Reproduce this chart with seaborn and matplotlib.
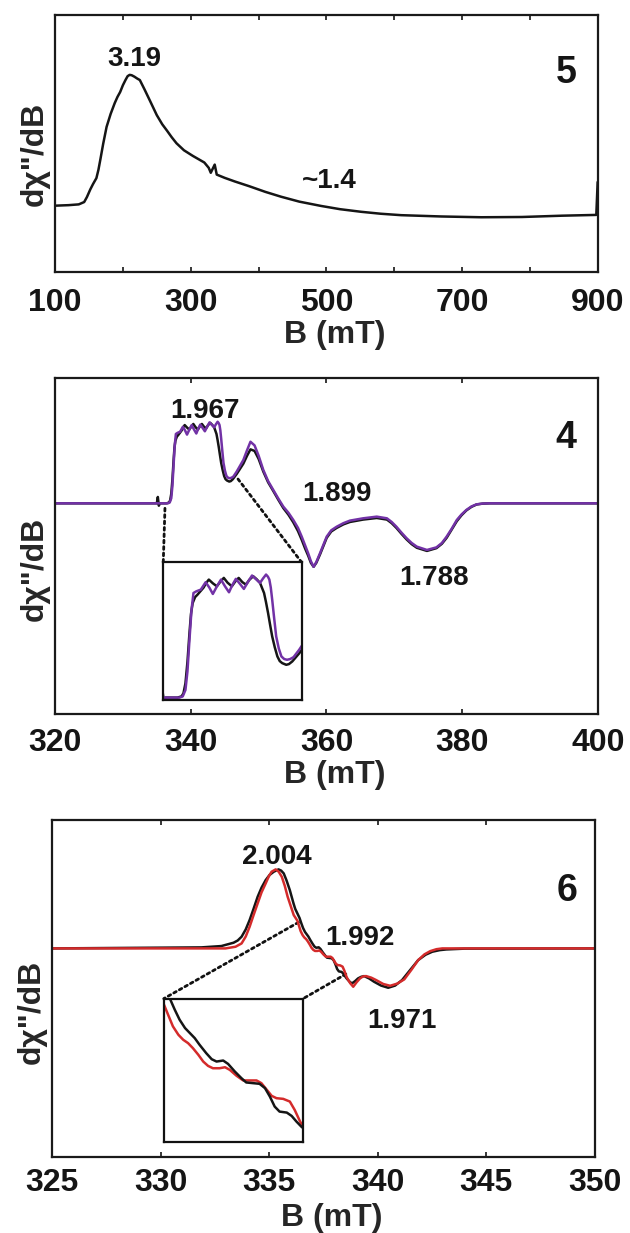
import seaborn as sns
import matplotlib.pyplot as plt
from matplotlib.patches import ConnectionPatch

# ---- panel "5": wide field scan (B in mT, signal in arb. units, baseline = 0)
b5 = [100, 120, 135, 143, 147, 152, 156, 161, 164, 167, 171, 176, 182, 188,
      192, 196, 200, 204, 207, 210, 213, 217, 221, 225, 232, 240, 250, 258,
      265, 272, 279, 290, 303, 320, 326.5, 329.5, 335.3, 338.3, 350, 365,
      386, 410, 433, 460, 492, 520, 551, 580, 610, 669, 728, 788, 847,
      897.5, 899.5]
i5 = [-0.006, -0.002, 0.004, 0.022, 0.06, 0.119, 0.16, 0.206, 0.27, 0.354,
      0.47, 0.60, 0.70, 0.783, 0.83, 0.868, 0.92, 0.962, 0.99, 1.0, 0.997,
      0.986, 0.972, 0.96, 0.887, 0.80, 0.69, 0.62, 0.571, 0.52, 0.474, 0.42,
      0.377, 0.326, 0.285, 0.247, 0.31, 0.233, 0.208, 0.18, 0.144, 0.10,
      0.063, 0.025, -0.008, -0.033, -0.053, -0.068, -0.079, -0.089, -0.095,
      -0.093, -0.083, -0.077, 0.176]

# ---- panel "4": black and purple traces
b4_black = [320, 335.0, 335.15, 335.3, 335.45, 336.45, 336.8, 336.96, 337.13,
            337.3, 337.47, 337.6, 337.74, 337.95, 338.15, 338.67, 338.9,
            339.11, 339.45, 339.79, 340.1, 340.38, 340.7, 341.06, 341.35,
            341.64, 341.95, 342.25, 342.55, 342.87, 343.15, 343.45, 343.79,
            343.95, 344.13, 344.3, 344.48, 344.7, 344.92, 345.12, 345.33,
            345.67, 345.9, 346.18, 346.77, 347.75, 348.3, 348.8, 349.4, 350.0,
            350.69, 351.4, 352.16, 352.9, 353.64, 354.4, 355.11, 355.8,
            356.35, 356.85, 357.3, 357.7, 358.1, 358.5, 359.04, 360.03, 360.7,
            361.5, 362.5, 363.46, 365.4, 367.4, 368.9, 369.6, 370.3, 371.05,
            371.8, 372.55, 373.3, 374.8, 376.2, 377.0, 377.7, 378.45, 379.2,
            379.9, 380.6, 381.35, 382.1, 383.0, 384.1, 400]
i4_black = [0, 0, 0.08, -0.03, 0, 0, 0.01, 0.036, 0.12, 0.30, 0.54, 0.70,
            0.79, 0.84, 0.86, 0.92, 0.96, 0.986, 0.955, 0.93, 0.97, 1.0, 0.96,
            0.93, 0.97, 1.0, 0.965, 0.944, 0.985, 1.014, 0.99, 0.958, 0.874,
            0.80, 0.707, 0.61, 0.511, 0.42, 0.344, 0.305, 0.288, 0.274, 0.28,
            0.302, 0.37, 0.50, 0.60, 0.68, 0.66, 0.56, 0.40, 0.265, 0.155,
            0.045, -0.06, -0.145, -0.24, -0.35, -0.46, -0.57, -0.66, -0.75,
            -0.80, -0.75, -0.645, -0.435, -0.355, -0.31, -0.265, -0.235,
            -0.205, -0.185, -0.205, -0.25, -0.31, -0.385, -0.455, -0.515,
            -0.56, -0.60, -0.565, -0.51, -0.435, -0.33, -0.225, -0.15, -0.09,
            -0.045, -0.015, -0.004, 0, 0]
b4_purple = [320, 336.62, 336.9, 337.13, 337.3, 337.47, 337.64, 337.81,
             338.05, 338.43, 338.84, 339.15, 339.45, 339.8, 340.14, 340.48,
             340.82, 341.1, 341.4, 341.75, 342.08, 342.45, 342.77, 343.1,
             343.45, 343.7, 343.96, 344.12, 344.24, 344.36, 344.48, 344.65,
             344.82, 345.04, 345.26, 345.5, 345.74, 346.0, 346.29, 346.77,
             347.75, 348.3, 348.8, 349.4, 350.0, 350.69, 351.4, 352.16, 352.9,
             353.64, 354.4, 355.11, 355.8, 356.35, 356.85, 357.3, 357.7,
             358.1, 358.5, 359.04, 360.03, 360.7, 361.5, 362.5, 363.46, 365.4,
             367.4, 368.9, 369.6, 370.3, 371.05, 371.8, 372.55, 373.3, 374.8,
             376.2, 377.0, 377.7, 378.45, 379.2, 379.9, 380.6, 381.35, 382.1,
             383.0, 384.1, 400]
i4_purple = [0, 0, 0.01, 0.064, 0.22, 0.483, 0.73, 0.874, 0.888, 0.902,
             0.964, 0.92, 0.866, 0.93, 0.986, 0.93, 0.88, 0.94, 0.992, 0.95,
             0.908, 0.97, 1.02, 0.99, 0.958, 0.995, 1.028, 1.01, 0.986, 0.92,
             0.818, 0.66, 0.511, 0.41, 0.344, 0.322, 0.316, 0.322, 0.338,
             0.40, 0.546, 0.67, 0.776, 0.73, 0.60, 0.42, 0.28, 0.168, 0.06,
             -0.042, -0.12, -0.21, -0.31, -0.42, -0.53, -0.63, -0.73, -0.80,
             -0.74, -0.63, -0.42, -0.34, -0.295, -0.25, -0.218, -0.189,
             -0.168, -0.189, -0.235, -0.295, -0.37, -0.44, -0.50, -0.546,
             -0.588, -0.555, -0.50, -0.42, -0.32, -0.21, -0.14, -0.084, -0.04,
             -0.013, -0.003, 0, 0]

# ---- panel "6": black and red traces
b6_black = [325, 331.88, 332.8, 333.36, 333.55, 333.73, 333.92, 334.1, 334.28,
            334.47, 334.65, 334.84, 335.02, 335.21, 335.43, 335.55, 335.67,
            335.8, 335.95, 336.12, 336.2, 336.40, 336.48, 336.56, 336.65,
            336.73, 336.81, 336.89, 337.0, 337.09, 337.17, 337.28, 337.36,
            337.47, 337.58, 337.66, 337.77, 337.88, 337.97, 338.05, 338.13,
            338.21, 338.33, 338.41, 338.49, 338.57, 338.7, 338.81, 338.95,
            339.09, 339.23, 339.37, 339.6, 339.83, 340.15, 340.48, 340.8,
            341.12, 341.5, 341.86, 342.2, 342.51, 342.85, 343.16, 344, 350]
i6_black = [0, 0.013, 0.03, 0.072, 0.10, 0.148, 0.24, 0.359, 0.50, 0.654,
            0.77, 0.865, 0.93, 0.97, 1.0, 0.985, 0.949, 0.86, 0.738, 0.57,
            0.50, 0.384, 0.318, 0.258, 0.208, 0.178, 0.148, 0.108, 0.058,
            0.022, 0.008, 0.014, -0.006, -0.051, -0.091, -0.117, -0.121,
            -0.125, -0.151, -0.201, -0.261, -0.291, -0.297, -0.317, -0.351,
            -0.381, -0.42, -0.443, -0.415, -0.38, -0.36, -0.35, -0.38, -0.422,
            -0.47, -0.498, -0.47, -0.40, -0.27, -0.148, -0.08, -0.042, -0.022,
            -0.013, -0.003, 0]
b6_red = [325, 332.99, 333.45, 333.73, 333.92, 334.1, 334.28, 334.47, 334.65,
          334.84, 334.98, 335.11, 335.3, 335.44, 335.58, 335.72, 335.85, 336.0,
          336.13, 336.30, 336.37, 336.45, 336.54, 336.62, 336.70, 336.78,
          336.87, 336.95, 337.03, 337.11, 337.22, 337.31, 337.39, 337.50,
          337.61, 337.72, 337.83, 337.91, 338.0, 338.08, 338.16, 338.27,
          338.38, 338.46, 338.55, 338.6, 338.73, 338.87, 339.02, 339.18,
          339.32, 339.46, 339.7, 339.92, 340.25, 340.57, 340.9, 341.22,
          341.55, 341.86, 342.15, 342.42, 342.7, 342.97, 350]
i6_red = [0, 0, 0.021, 0.063, 0.15, 0.274, 0.42, 0.57, 0.71, 0.823, 0.91,
          0.97, 1.0, 0.97, 0.907, 0.79, 0.654, 0.53, 0.422, 0.35, 0.288,
          0.218, 0.168, 0.138, 0.118, 0.088, 0.048, 0.008, -0.018, -0.032,
          -0.032, -0.026, -0.042, -0.077, -0.105, -0.105, -0.105, -0.121,
          -0.161, -0.197, -0.211, -0.215, -0.231, -0.281, -0.351, -0.381,
          -0.44, -0.485, -0.43, -0.38, -0.355, -0.35, -0.37, -0.40, -0.45,
          -0.473, -0.445, -0.392, -0.27, -0.148, -0.075, -0.034, -0.01, 0, 0]

ticks5 = [100, 200, 300, 400, 500, 600, 700, 800, 900]
ticklabels5 = ['100', '', '300', '', '500', '', '700', '', '900']
ticks4 = [320, 340, 360, 380, 400]
ticks6 = [325, 330, 335, 340, 345, 350]

notes5 = [('3.19', 217, 1.148), ('~1.4', 504, 0.2075)]
notes4 = [('1.967', 342.1, 1.20), ('1.899', 361.6, 0.159), ('1.788', 375.8, -0.904)]
notes6 = [('2.004', 335.35, 1.20), ('1.992', 339.2, 0.169), ('1.971', 341.1, -0.886)]

BLACK = '#151515'
PURPLE = '#7232a6'
RED = '#d42b2b'
LW = 1.8

sns.set_theme(style='ticks')
plt.rcParams['font.family'] = ['Liberation Sans', 'DejaVu Sans']
plt.rcParams['font.weight'] = 'bold'
plt.rcParams['axes.labelweight'] = 'bold'
plt.rcParams['text.color'] = '#151515'
plt.rcParams['xtick.color'] = '#151515'


def style_axes(ax, xlim, ylim, ticks, labels, pad, xlab_y, ylab_y):
    ax.set_xlim(xlim)
    ax.set_ylim(ylim)
    ax.set_xticks(ticks)
    ax.set_xticklabels(labels)
    ax.set_yticks([])
    ax.tick_params(axis='x', direction='in', top=True, length=3.8, width=1.2,
                   pad=pad, labelsize=23)
    for s in ax.spines.values():
        s.set_linewidth(1.6)
        s.set_color('#1a1a1a')
    ax.set_xlabel('B (mT)', fontsize=23, fontweight='bold')
    ax.set_ylabel('d\u03c7"/dB', fontsize=23, fontweight='bold')
    ax.xaxis.set_label_coords(0.515, xlab_y)
    ax.yaxis.set_label_coords(-0.01, ylab_y)


def style_inset(ins, xlim, ylim):
    ins.set_xlim(xlim)
    ins.set_ylim(ylim)
    ins.set_xticks([])
    ins.set_yticks([])
    ins.set_xlabel('')
    ins.set_ylabel('')
    for s in ins.spines.values():
        s.set_linewidth(1.6)
        s.set_color('#111111')


def dotted(ax, ins, xy, corner):
    con = ConnectionPatch(xyA=xy, coordsA=ax.transData, xyB=corner,
                          coordsB=ins.transAxes, linestyle=(0, (1, 1.3)),
                          linewidth=2.0, color='#111111')
    ax.add_artist(con)


def trace(ax, x, y, color):
    sns.lineplot(x=x, y=y, ax=ax, color=color, linewidth=LW,
                 estimator=None, sort=False, legend=False)


fig = plt.figure(figsize=(6.3, 12.33), dpi=100)
ax5 = fig.add_axes([0.0873, 0.7794, 0.8619, 0.2084])
ax4 = fig.add_axes([0.0873, 0.4209, 0.8619, 0.2725])
ax6 = fig.add_axes([0.0825, 0.0616, 0.8619, 0.2733])

# panel 5
trace(ax5, b5, i5, BLACK)
style_axes(ax5, (100, 900), (-0.516, 1.46), ticks5, ticklabels5, 11.3, -0.185, 0.46)
for txt, x, y in notes5:
    ax5.text(x, y, txt, fontsize=20, fontweight='bold', ha='center', va='center_baseline')
ax5.text(0.941, 0.79, '5', transform=ax5.transAxes, fontsize=27,
         fontweight='heavy', ha='center', va='center_baseline')

# panel 4
trace(ax4, b4_black, i4_black, BLACK)
trace(ax4, b4_purple, i4_purple, PURPLE)
style_axes(ax4, (320, 400), (-2.656, 1.579), ticks4, [str(t) for t in ticks4],
           9.7, -0.137, 0.433)
for txt, x, y in notes4:
    ax4.text(x, y, txt, fontsize=20, fontweight='bold', ha='center', va='center_baseline')
ax4.text(0.941, 0.833, '4', transform=ax4.transAxes, fontsize=27,
         fontweight='heavy', ha='center', va='center_baseline')

ins4 = ax4.inset_axes([0.1994, 0.0418, 0.2547, 0.41])
trace(ins4, b4_black, i4_black, BLACK)
trace(ins4, b4_purple, i4_purple, PURPLE)
style_inset(ins4, (335.25, 346.97), (-0.02, 1.131))
dotted(ax4, ins4, (336.2, -0.063), (0, 1))
dotted(ax4, ins4, (346.96, 0.306), (1, 1))

# panel 6
trace(ax6, b6_black, i6_black, BLACK)
trace(ax6, b6_red, i6_red, RED)
style_axes(ax6, (325, 350), (-2.64, 1.624), ticks6, [str(t) for t in ticks6],
           7.9, -0.1365, 0.43)
for txt, x, y in notes6:
    ax6.text(x, y, txt, fontsize=20, fontweight='bold', ha='center', va='center_baseline')
ax6.text(0.948, 0.80, '6', transform=ax6.transAxes, fontsize=27,
         fontweight='heavy', ha='center', va='center_baseline')

ins6 = ax6.inset_axes([0.206, 0.0455, 0.2566, 0.4247])
trace(ins6, b6_red, i6_red, RED)
trace(ins6, b6_black, i6_black, BLACK)
style_inset(ins6, (336.3, 338.6), (-0.471, 0.384))
dotted(ax6, ins6, (336.35, 0.33), (0, 1))
dotted(ax6, ins6, (338.53, -0.325), (1, 1))

fig.savefig('out.png', dpi=100)
